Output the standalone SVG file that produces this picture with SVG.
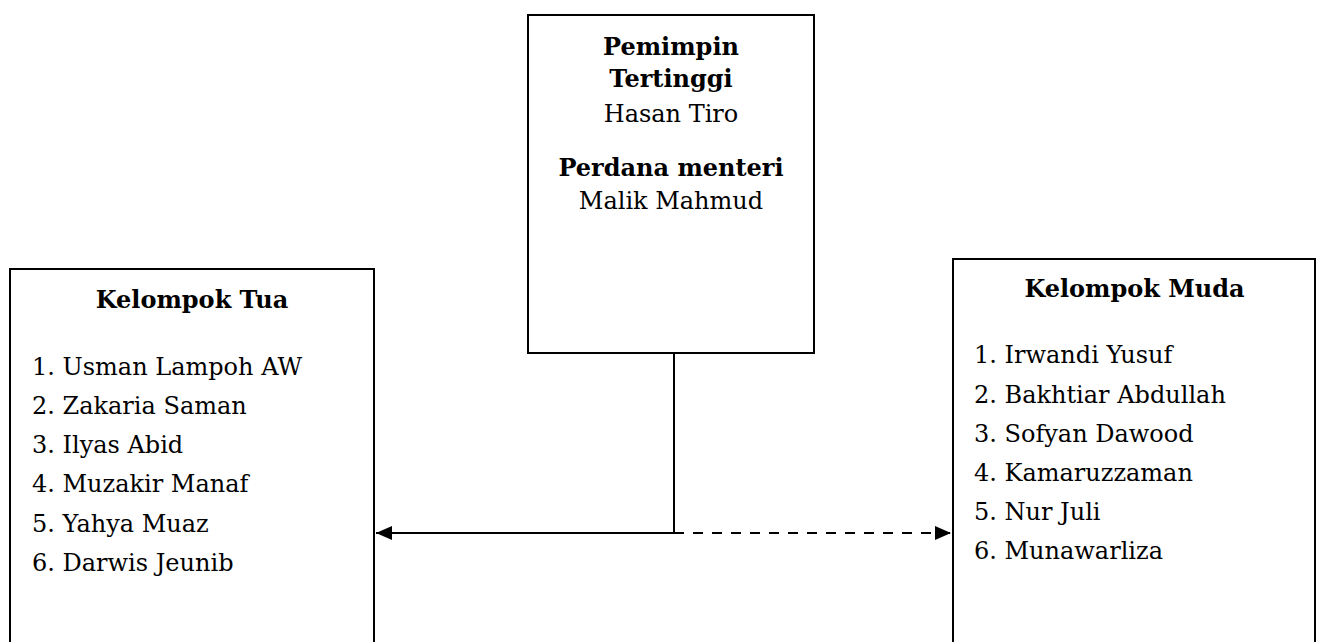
<svg xmlns="http://www.w3.org/2000/svg" width="1322" height="642" viewBox="0 0 1322 642">
<style>
.box{fill:#fff;stroke:#000;stroke-width:2}
text{font-family:"DejaVu Serif","Liberation Serif",serif;font-size:24px;fill:#000}
.b{font-weight:bold}
.c{text-anchor:middle}
.ln{stroke:#000;stroke-width:2;fill:none}
</style>
<defs>
<marker id="ah" viewBox="0 0 16 14" refX="16" refY="7" markerWidth="16" markerHeight="14" markerUnits="userSpaceOnUse" orient="auto">
<path d="M0,0 L16,7 L0,14 Z" fill="#000"/>
</marker>
</defs>
<rect width="1322" height="642" fill="#fff"/>
<g id="connectors">
<line class="ln" x1="674" y1="353" x2="674" y2="533"/>
<line class="ln" x1="674" y1="533" x2="376" y2="533" marker-end="url(#ah)"/>
<line class="ln" x1="674" y1="533" x2="951" y2="533" stroke-dasharray="10 9" marker-end="url(#ah)"/>
</g>
<g id="pemimpin">
<rect class="box" x="528" y="15" width="286" height="338"/>
<text class="b c" x="671" y="55">Pemimpin</text>
<text class="b c" x="671" y="87">Tertinggi</text>
<text class="c" x="671" y="122">Hasan Tiro</text>
<text class="b c" x="671" y="176">Perdana menteri</text>
<text class="c" x="671" y="209">Malik Mahmud</text>
</g>
<g id="kelompok-tua">
<rect class="box" x="10" y="269" width="364" height="400"/>
<text class="b c" x="192" y="308">Kelompok Tua</text>
<text x="32" y="375">1. Usman Lampoh AW</text>
<text x="32" y="414">2. Zakaria Saman</text>
<text x="32" y="453">3. Ilyas Abid</text>
<text x="32" y="492">4. Muzakir Manaf</text>
<text x="32" y="532">5. Yahya Muaz</text>
<text x="32" y="571">6. Darwis Jeunib</text>
</g>
<g id="kelompok-muda">
<rect class="box" x="953" y="259" width="362" height="410"/>
<text class="b c" x="1134.5" y="297">Kelompok Muda</text>
<text x="974" y="363">1. Irwandi Yusuf</text>
<text x="974" y="403">2. Bakhtiar Abdullah</text>
<text x="974" y="442">3. Sofyan Dawood</text>
<text x="974" y="481">4. Kamaruzzaman</text>
<text x="974" y="520">5. Nur Juli</text>
<text x="974" y="559">6. Munawarliza</text>
</g>
</svg>
